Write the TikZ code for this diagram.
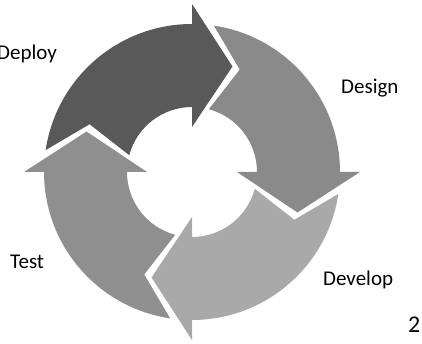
\documentclass[tikz,border=0pt]{standalone}
\usepackage{fontspec}
\setmainfont{Carlito}
\definecolor{deploygray}{HTML}{595959}
\definecolor{designgray}{HTML}{8A8A8A}
\definecolor{developgray}{HTML}{A9A9A9}
\definecolor{testgray}{HTML}{8F8F8F}
\begin{document}
\begin{tikzpicture}[x=1pt,y=1pt,
  lbl/.style={anchor=base west,inner sep=0pt,font=\fontsize{21}{25}\selectfont}]
\useasboundingbox (0,0) rectangle (422,-344);
\begin{scope}[shift={(192,-172)}]
\fill [deploygray] (171.5:148) arc (171.5:90:148) -- (90:168) -- (69:113) -- (90:45) -- (90:65) arc (90:165:65) -- (155:113) -- cycle;
\fill [designgray,rotate=-90] (171.5:148) arc (171.5:90:148) -- (90:168) -- (69:113) -- (90:45) -- (90:65) arc (90:165:65) -- (155:113) -- cycle;
\fill [developgray,rotate=-180] (171.5:148) arc (171.5:90:148) -- (90:168) -- (69:113) -- (90:45) -- (90:65) arc (90:165:65) -- (155:113) -- cycle;
\fill [testgray,rotate=-270] (171.5:148) arc (171.5:90:148) -- (90:168) -- (69:113) -- (90:45) -- (90:65) arc (90:165:65) -- (155:113) -- cycle;
\end{scope}
\node [lbl] (deploy) at (-3,-60) {Deploy};
\node [lbl] (design) at (341,-93.3) {Design};
\node [lbl] (develop) at (323,-285) {Develop};
\node [lbl] (test) at (10,-268.7) {Test};
\node [lbl,font=\fontsize{24}{28}\selectfont] (page) at (408,-332.7) {2};
\end{tikzpicture}
\end{document}
